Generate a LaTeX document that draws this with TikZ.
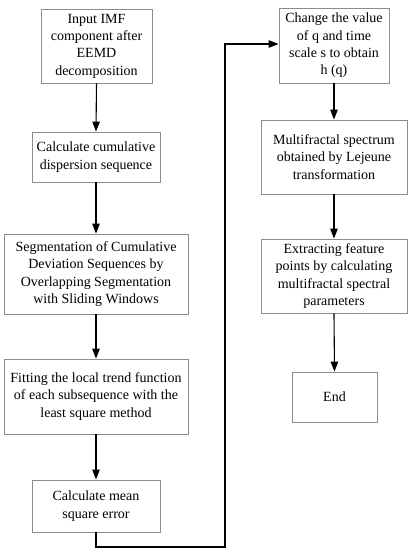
\documentclass[tikz,border=0pt]{standalone}
\usepackage{fontspec}
\setmainfont{Liberation Serif}
\usetikzlibrary{arrows.meta}
\begin{document}
\begin{tikzpicture}[x=1pt,y=-1pt,
  box/.style={draw=black!45, line width=0.9pt, fill=white, align=center, inner sep=0pt,
    font=\fontsize{14}{17.3}\selectfont},
  arr/.style={draw=black, line width=1.1pt, -{Triangle[length=10pt,width=7.5pt]}}]
\useasboundingbox (0,0) rectangle (412,550);
\node[box, minimum width=111, minimum height=74] (b1) at (96.5,46) {Input IMF\\component after\\EEMD\\decomposition};
\node[box, minimum width=128, minimum height=50] (b2) at (96,157) {Calculate cumulative\\dispersion sequence};
\node[box, minimum width=184, minimum height=80] (b3) at (96,274) {Segmentation of Cumulative\\Deviation Sequences by\\Overlapping Segmentation\\with Sliding Windows};
\node[box, minimum width=184, minimum height=75] (b4) at (96,396.5) {Fitting the local trend function\\of each subsequence with the\\least square method};
\node[box, minimum width=128, minimum height=52] (b5) at (96,506) {Calculate mean\\square error};
\node[box, minimum width=110, minimum height=75] (r1) at (334,45.5) {Change the value\\of q and time\\scale s to obtain\\h (q)};
\node[box, minimum width=146, minimum height=74] (r2) at (334,157) {Multifractal spectrum\\obtained by Lejeune\\transformation};
\node[box, minimum width=146, minimum height=74] (r3) at (334,276) {Extracting feature\\points by calculating\\multifractal spectral\\parameters};
\node[box, minimum width=85, minimum height=50] (r4) at (334.5,397) {End};
\coordinate (c1) at (96,547);
\coordinate (c2) at (225,547);
\draw[arr] (b1.south) -- (b2.north);
\draw[arr] (b2.south) -- (b3.north);
\draw[arr] (b3.south) -- (b4.north);
\draw[arr] (b4.south) -- (b5.north);
\draw[arr] (b5.south) -- (c1) -- (c2) |- ([yshift=1.5pt]r1.west);
\draw[arr] (r1.south) -- (r2.north);
\draw[arr] (r2.south) -- (r3.north);
\draw[arr] (r3.south) -- (r4.north);
\end{tikzpicture}
\end{document}
